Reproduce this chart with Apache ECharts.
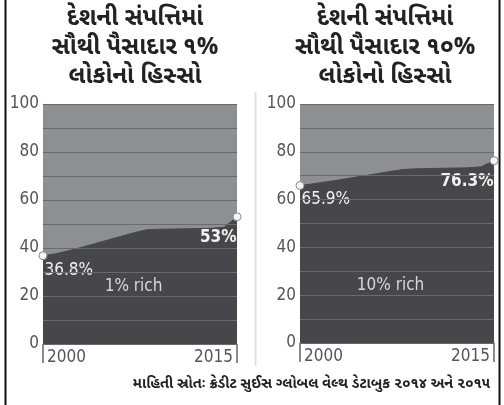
<!DOCTYPE html>
<html>
<head>
<meta charset="utf-8">
<script src="https://cdn.jsdelivr.net/npm/echarts@6/dist/echarts.min.js"></script>
<style>
  html, body { margin: 0; padding: 0; background: #fff; }
  #chart { width: 504px; height: 405px; }
</style>
</head>
<body>
<div id="chart"></div>
<script>
// data
const years = ['2000', '2001', '2002', '2003', '2004', '2005', '2006', '2007',
  '2008', '2009', '2010', '2011', '2012', '2013', '2014', '2015'];
const top1Share = [36.8, 37.6, 38.9, 40.3, 41.8, 43.3, 44.8, 46.3,
  47.6, 47.8, 47.9, 48.0, 48.1, 48.2, 48.6, 53];
const top10Share = [65.9, 66.6, 67.4, 68.2, 69.1, 70.0, 70.9, 71.8,
  72.6, 72.9, 73.0, 73.1, 73.2, 73.3, 73.7, 76.3];
const titles = [
  'દેશની સંપત્તિમાં\nસૌથી પૈસાદાર ૧%\nલોકોનો હિસ્સો',
  'દેશની સંપત્તિમાં\nસૌથી પૈસાદાર ૧૦%\nલોકોનો હિસ્સો'
];
const bandLabels = ['1% rich', '10% rich'];
const source = 'માહિતી સ્રોતઃ ક્રેડીટ સુઈસ ગ્લોબલ વેલ્થ ડેટાબુક ૨૦૧૪ અને ૨૦૧૫';

const gujFont = "'Noto Sans Gujarati', 'Noto Serif Gujarati', 'Lohit Gujarati', 'Noto Sans', sans-serif";
const numFont = "'DejaVu Sans Condensed', 'Liberation Sans Narrow', 'Liberation Sans', sans-serif";
const upper = '#8e8f93';
const lower = '#47474b';

const chart = echarts.init(document.getElementById('chart'));

function pointData(values) {
  const last = values.length - 1;
  return values.map((v, i) => {
    if (i === 0) {
      return { value: v, label: { show: true, position: [6, 19], align: 'left', verticalAlign: 'middle' } };
    }
    if (i === last) {
      return { value: v, label: { show: true, position: [4, 25], align: 'right', verticalAlign: 'middle', fontWeight: 'bold' } };
    }
    return { value: v };
  });
}

function makeSeries(idx, values) {
  const last = values.length - 1;
  return {
    type: 'line',
    xAxisIndex: idx,
    yAxisIndex: idx,
    data: pointData(values),
    symbol: 'circle',
    showAllSymbol: true,
    symbolSize: (v, p) => (p.dataIndex === 0 || p.dataIndex === last) ? 8 : 0,
    itemStyle: { color: '#f4f4f4', borderColor: '#8a8a8a', borderWidth: 1 },
    lineStyle: { color: lower, width: 1 },
    areaStyle: { color: lower, opacity: 1 },
    label: {
      show: false,
      formatter: p => p.value + '%',
      color: '#f2f2f2',
      fontFamily: numFont,
      fontSize: 17
    },
    markPoint: {
      symbol: 'circle',
      symbolSize: 0,
      data: [{ coord: [years[7], 24], value: bandLabels[idx] }],
      label: {
        show: true,
        formatter: bandLabels[idx],
        color: '#d8d8d8',
        fontFamily: numFont,
        fontSize: 17
      }
    },
    emphasis: { disabled: true },
    z: 1
  };
}

function xAxisFor(idx) {
  return {
    type: 'category',
    gridIndex: idx,
    data: years,
    boundaryGap: false,
    axisLine: { show: false },
    axisTick: { show: true, interval: 14, length: 19, lineStyle: { color: '#666', width: 1.5 } },
    axisLabel: {
      interval: 14,
      alignMinLabel: 'left',
      alignMaxLabel: 'right',
      padding: [0, 4, 0, 4],
      margin: 5,
      color: '#555',
      fontFamily: numFont,
      fontSize: 17
    },
    splitLine: { show: false }
  };
}

function yAxisFor(idx) {
  return {
    type: 'value',
    gridIndex: idx,
    min: 0,
    max: 100,
    interval: 10,
    z: 10,
    axisLine: { show: false },
    axisTick: { show: false },
    axisLabel: {
      formatter: v => (v % 20 === 0 ? String(v) : ''),
      margin: 4,
      color: '#555',
      fontFamily: numFont,
      fontSize: 17
    },
    splitLine: { show: true, lineStyle: { color: '#6a6a6e', width: 1.2 } }
  };
}

const option = {
  backgroundColor: '#fff',
  animation: false,
  title: [
    {
      text: titles[0], left: 130, top: 1, textAlign: 'center',
      textStyle: { fontFamily: gujFont, fontSize: 24, fontWeight: 'bold', color: '#222', lineHeight: 29 }
    },
    {
      text: titles[1], left: 380, top: 1, textAlign: 'center',
      textStyle: { fontFamily: gujFont, fontSize: 24, fontWeight: 'bold', color: '#222', lineHeight: 29 }
    },
    {
      text: source, right: 9, top: 373,
      textStyle: { fontFamily: gujFont, fontSize: 14.5, fontWeight: 'bold', color: '#222' }
    }
  ],
  grid: [
    { left: 43, top: 104, width: 194, height: 240, show: true, backgroundColor: upper, borderWidth: 0 },
    { left: 300, top: 104, width: 194, height: 239, show: true, backgroundColor: upper, borderWidth: 0 }
  ],
  xAxis: [xAxisFor(0), xAxisFor(1)],
  yAxis: [yAxisFor(0), yAxisFor(1)],
  series: [makeSeries(0, top1Share), makeSeries(1, top10Share)],
  graphic: [
    { type: 'line', shape: { x1: 5.5, y1: 0, x2: 5.5, y2: 405 }, style: { stroke: '#111', lineWidth: 2 } },
    { type: 'line', shape: { x1: 499.5, y1: 0, x2: 499.5, y2: 405 }, style: { stroke: '#111', lineWidth: 2 } },
    { type: 'line', shape: { x1: 255.5, y1: 92, x2: 255.5, y2: 366 }, style: { stroke: '#e2e2e2', lineWidth: 2 } }
  ]
};

chart.setOption(option);
</script>
</body>
</html>
